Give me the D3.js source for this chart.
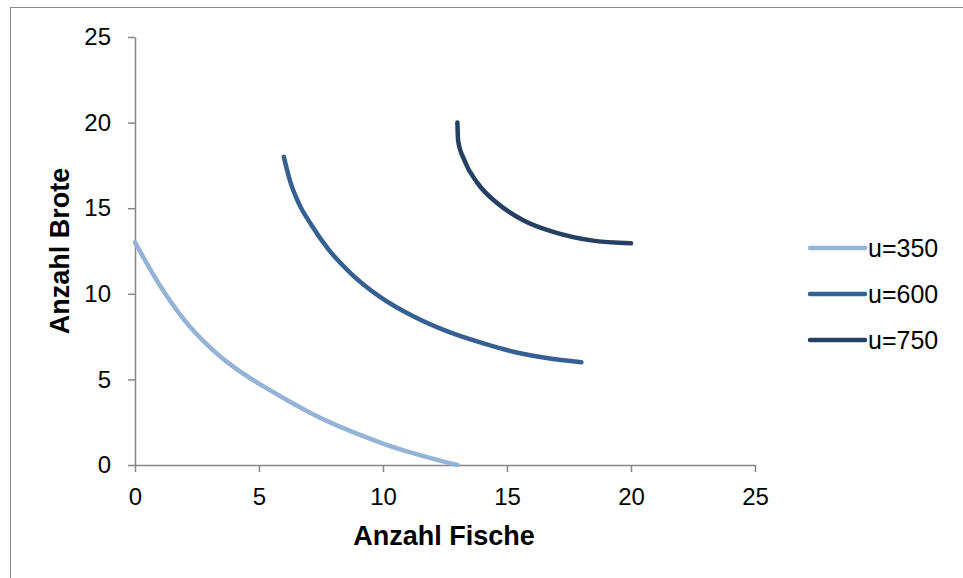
<!DOCTYPE html>
<html>
<head>
<meta charset="utf-8">
<script src="https://cdn.jsdelivr.net/npm/d3@7"></script>
<style>
  body { margin: 0; background: #fff; }
  svg { display: block; font-family: "Liberation Sans", Arial, sans-serif; }
</style>
</head>
<body>
<div id="chart"></div>
<script>
// values (Anzahl Fische, Anzahl Brote)
const seriesNames = ['u=350', 'u=600', 'u=750'];
const seriesColors = ['#95b3d7', '#376092', '#254061'];

const u350 = [
  [0, 13], [1, 10.5], [2, 8.45], [3, 6.9], [4, 5.7], [5, 4.75], [6, 3.9],
  [7, 3.1], [8, 2.4], [9, 1.8], [10, 1.25], [11, 0.78], [12, 0.37], [13, 0]
];
const u600 = [
  [6, 18], [6.25, 16.6], [6.6, 15.3], [7.1, 14.05], [7.8, 12.6], [8.7, 11.2],
  [9.85, 9.85], [11.2, 8.7], [12.6, 7.8], [14.05, 7.1], [15.3, 6.6], [16.6, 6.25], [18, 6]
];
const u750 = [
  [13, 20], [13.03, 18.95], [13.28, 17.8], [13.82, 16.45], [14.6, 15.3],
  [15.65, 14.3], [16.9, 13.6], [18.4, 13.12], [20, 12.95]
];
const seriesData = [u350, u600, u750];

const xTicks = [0, 5, 10, 15, 20, 25];
const yTicks = [0, 5, 10, 15, 20, 25];

const width = 963, height = 578;
const margin = { left: 135, right: 208, top: 37, bottom: 113 };

const svg = d3.select('#chart').append('svg')
  .attr('width', width)
  .attr('height', height);

// outer chart frame (runs off the bottom/right of the window)
svg.append('rect')
  .attr('x', 10.5).attr('y', 7.5)
  .attr('width', 980).attr('height', 600)
  .attr('fill', 'none')
  .attr('stroke', '#8c8c8c')
  .attr('stroke-width', 1);

const x = d3.scaleLinear().domain([0, 25]).range([margin.left, width - margin.right]);
const y = d3.scaleLinear().domain([0, 25]).range([height - margin.bottom, margin.top]);

const xAxis = svg.append('g')
  .attr('transform', `translate(0,${y(0)})`)
  .call(d3.axisBottom(x).tickValues(xTicks).tickSize(7).tickPadding(16).tickSizeOuter(0));
const yAxis = svg.append('g')
  .attr('transform', `translate(${x(0)},0)`)
  .call(d3.axisLeft(y).tickValues(yTicks).tickSize(7).tickPadding(17).tickSizeOuter(0));

[xAxis, yAxis].forEach(g => {
  g.select('.domain').attr('stroke', '#868686').attr('stroke-width', 1.5);
  g.selectAll('.tick line').attr('stroke', '#868686').attr('stroke-width', 1.5);
  g.selectAll('.tick text')
    .attr('fill', '#000')
    .style('font-size', '24px')
    .style('font-family', '"Liberation Sans", Arial, sans-serif');
});

const line = d3.line()
  .x(d => x(d[0]))
  .y(d => y(d[1]))
  .curve(d3.curveMonotoneX);

svg.append('g')
  .selectAll('path')
  .data(seriesData)
  .join('path')
  .attr('d', line)
  .attr('fill', 'none')
  .attr('stroke', (d, i) => seriesColors[i])
  .attr('stroke-width', 4.5)
  .attr('stroke-linecap', 'round')
  .attr('stroke-linejoin', 'round');

// axis titles
svg.append('text')
  .attr('x', 444).attr('y', 545)
  .attr('text-anchor', 'middle')
  .style('font-size', '27px')
  .style('font-weight', 'bold')
  .text('Anzahl Fische');

svg.append('text')
  .attr('transform', 'translate(69,251) rotate(-90)')
  .attr('text-anchor', 'middle')
  .style('font-size', '27px')
  .style('font-weight', 'bold')
  .text('Anzahl Brote');

// legend
const legend = svg.append('g')
  .selectAll('g')
  .data(seriesNames)
  .join('g')
  .attr('transform', (d, i) => `translate(810,${248 + i * 46})`);

legend.append('line')
  .attr('x1', 0).attr('x2', 55)
  .attr('stroke', (d, i) => seriesColors[i])
  .attr('stroke-width', 4.5)
  .attr('stroke-linecap', 'round');

legend.append('text')
  .attr('x', 58).attr('dy', '0.36em')
  .style('font-size', '25px')
  .text(d => d);
</script>
</body>
</html>
